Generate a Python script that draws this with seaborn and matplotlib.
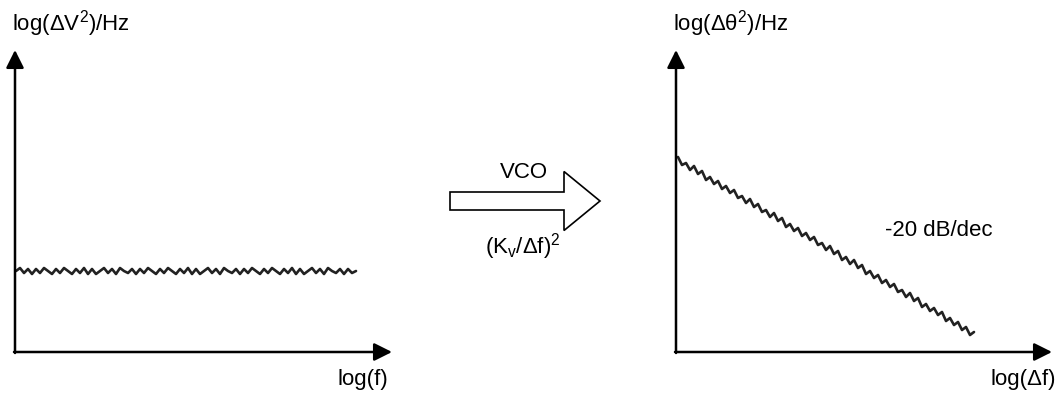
import numpy as np
import matplotlib
matplotlib.use("Agg")
import matplotlib.pyplot as plt
import seaborn as sns
from matplotlib.patches import FancyArrow

# ==============================================
# data (pixel-like units of the drawing, y grows downward)
flat_noise_y = [271, 268, 273, 269, 274, 269, 273, 268, 271, 274, 269, 273, 268, 271, 274, 269,
                273, 268, 274, 269, 274, 271, 268, 273, 269, 274, 268, 271, 273, 269, 274, 269,
                273, 268, 271, 274, 269, 273, 268, 271, 274, 269, 273, 268, 274, 269, 274, 271,
                268, 273, 269, 274, 268, 271, 273, 269, 274, 269, 273, 268, 271, 274, 269, 273,
                268, 271, 274, 269, 273, 268, 274, 269, 274, 271, 268, 273, 269, 274, 268, 271,
                273, 269, 274, 269, 273, 271]
flat_x_start = 16

slope_noise_y = [157, 165, 163, 170, 166, 174, 171, 180, 177, 184, 181, 189, 186, 193, 190, 198,
                 196, 203, 199, 207, 204, 212, 210, 217, 213, 221, 218, 227, 224, 231, 228, 236,
                 233, 240, 237, 245, 243, 250, 246, 254, 251, 260, 257, 264, 260, 268, 265, 274,
                 271, 278, 275, 283, 280, 287, 284, 292, 290, 297, 293, 301, 298, 307, 304, 311,
                 308, 315, 312, 321, 318, 325, 322, 330, 327, 335, 332]
slope_x_start = 678
step = 4

left_ylabel = r"$\mathregular{log(\Delta V^2)/Hz}$"
left_xlabel = "log(f)"
right_ylabel = r"$\mathregular{log(\Delta \theta^2)/Hz}$"
right_xlabel = "log(Δf)"
arrow_top = "VCO"
arrow_bottom = r"$\mathregular{(K_v/\Delta f)^2}$"
slope_label = "-20 dB/dec"

# ==============================================
sns.set_style("white")
plt.rcParams["font.family"] = ["Liberation Sans", "DejaVu Sans"]
plt.rcParams["text.color"] = "black"

fig = plt.figure(figsize=(10.58, 3.97), dpi=100)
ax = fig.add_axes([0, 0, 1, 1])
ax.set_xlim(0, 1058)
ax.set_ylim(397, 0)
ax.axis("off")

flat_x = np.arange(len(flat_noise_y)) * step + flat_x_start
slope_x = np.arange(len(slope_noise_y)) * step + slope_x_start
sns.lineplot(x=flat_x, y=flat_noise_y, ax=ax, color="#222222", lw=1.9)
sns.lineplot(x=slope_x, y=slope_noise_y, ax=ax, color="#222222", lw=1.9)

# axes drawn as arrows
arr = dict(arrowstyle="-|>", mutation_scale=27, lw=1.8, color="black", shrinkA=0, shrinkB=0)
for x0, x1 in [(15, 392), (676, 1052)]:
    ax.annotate("", xy=(x0, 50), xytext=(x0, 353), arrowprops=arr)
    ax.annotate("", xy=(x1, 352), xytext=(x0 - 1, 352), arrowprops=arr)

fs = 16
ax.text(12, 24, left_ylabel, fontsize=fs, ha="left", va="center")
ax.text(673, 24, right_ylabel, fontsize=fs, ha="left", va="center")
ax.text(388, 380, left_xlabel, fontsize=fs, ha="right", va="center")
ax.text(1056, 380, right_xlabel, fontsize=fs, ha="right", va="center")
ax.text(885, 231, slope_label, fontsize=fs, ha="left", va="center")
ax.text(524, 173, arrow_top, fontsize=fs, ha="center", va="center")
ax.text(523, 247, arrow_bottom, fontsize=fs, ha="center", va="center")

# block arrow between panels
ax.add_patch(FancyArrow(450, 201, 150, 0, width=18, head_width=59, head_length=36,
                        length_includes_head=True, facecolor="white", edgecolor="black", lw=1.2))

fig.savefig("out.png", dpi=100)
